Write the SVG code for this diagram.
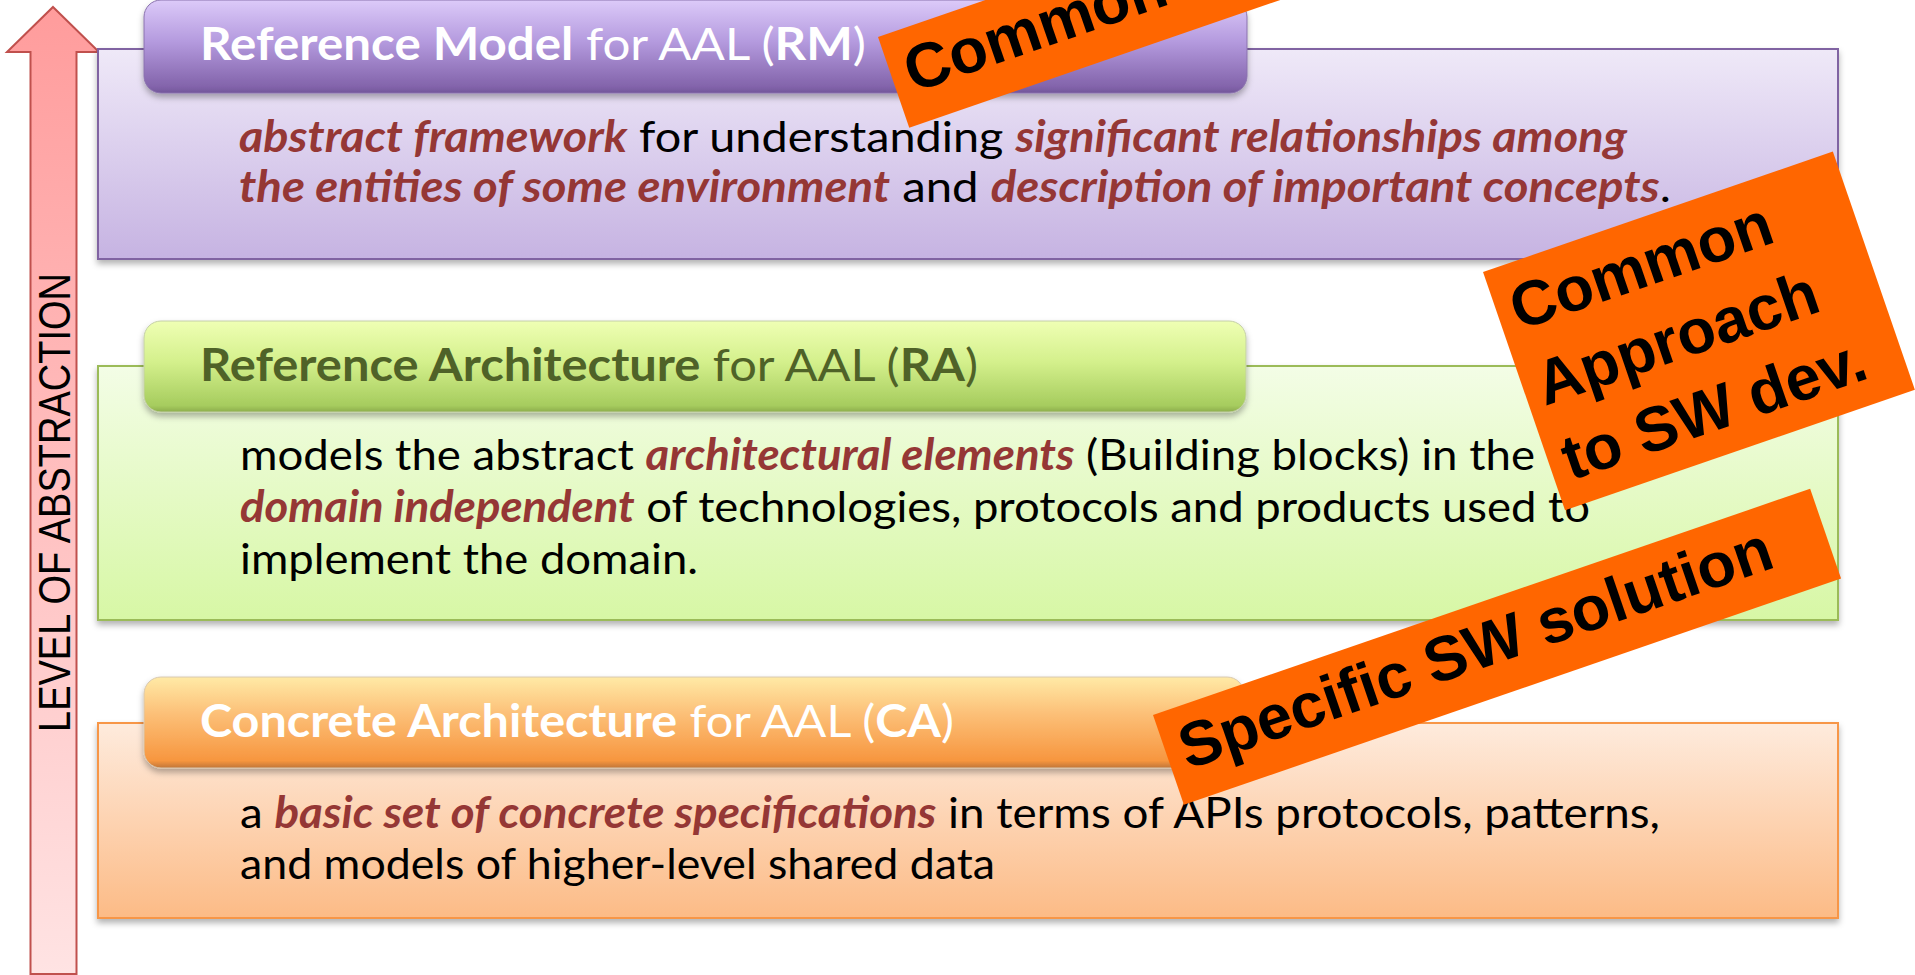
<svg xmlns="http://www.w3.org/2000/svg" width="1915" height="975" viewBox="0 0 1915 975">
<defs>
  <linearGradient id="gArrow" x1="0" y1="0" x2="0" y2="1"><stop offset="0" stop-color="#ff9c9c"/><stop offset="1" stop-color="#ffe3e3"/></linearGradient>
  <linearGradient id="gRmBox" x1="0" y1="0" x2="0" y2="1"><stop offset="0" stop-color="#efe9f8"/><stop offset="1" stop-color="#c6b3e2"/></linearGradient>
  <linearGradient id="gRmBar" x1="0" y1="0" x2="0" y2="1"><stop offset="0" stop-color="#dccaf9"/><stop offset="0.45" stop-color="#b49ade"/><stop offset="0.93" stop-color="#8364ab"/><stop offset="1" stop-color="#72569a"/></linearGradient>
  <linearGradient id="gRaBox" x1="0" y1="0" x2="0" y2="1"><stop offset="0" stop-color="#f3fde6"/><stop offset="1" stop-color="#d7f7a5"/></linearGradient>
  <linearGradient id="gRaBar" x1="0" y1="0" x2="0" y2="1"><stop offset="0" stop-color="#efffb4"/><stop offset="0.45" stop-color="#d4f08c"/><stop offset="0.93" stop-color="#a6cc5e"/><stop offset="1" stop-color="#8cad4c"/></linearGradient>
  <linearGradient id="gCaBox" x1="0" y1="0" x2="0" y2="1"><stop offset="0" stop-color="#feebdd"/><stop offset="1" stop-color="#fcbb86"/></linearGradient>
  <linearGradient id="gCaBar" x1="0" y1="0" x2="0" y2="1"><stop offset="0" stop-color="#ffeaa6"/><stop offset="0.4" stop-color="#fcc078"/><stop offset="0.92" stop-color="#f7963f"/><stop offset="1" stop-color="#c07538"/></linearGradient>
  <filter id="shadow" x="-5%" y="-10%" width="110%" height="130%">
    <feDropShadow dx="0" dy="4" stdDeviation="3" flood-color="#000" flood-opacity="0.3"/>
  </filter>
</defs>
<style>
  .title { font-family: Lato, "Liberation Sans", sans-serif; font-size: 45px; }
  .body { font-family: Lato, "Liberation Sans", sans-serif; font-size: 43px; fill: #000; }
  .b { font-weight: bold; }
  .em { font-weight: bold; font-style: italic; fill: #953735; }
  .white { fill: #ffffff; }
  .olive { fill: #4f6228; }
  .banner { fill: #ff6600; }
  .btext { font-family: "Liberation Sans", Arial, sans-serif; font-weight: bold; font-size: 63px; fill: #000; }
  .axis { font-family: "Liberation Sans", Arial, sans-serif; font-size: 44px; fill: #000; }
</style>
<rect width="1915" height="975" fill="#ffffff"/>

<g id="abstraction-arrow">
  <path d="M53,7 L99,52 L76.5,52 L76.5,974 L30.5,974 L30.5,52 L7,52 Z" fill="url(#gArrow)" stroke="#c0504d" stroke-width="2"/>
  <text class="axis" transform="translate(70,732) rotate(-90)" x="0" y="0" textLength="459" lengthAdjust="spacingAndGlyphs">LEVEL OF ABSTRACTION</text>
</g>

<g id="rm">
  <rect x="98" y="49" width="1740" height="210" fill="url(#gRmBox)" stroke="#8064a2" stroke-width="2" filter="url(#shadow)"/>
  <rect x="144" y="0" width="1103" height="93" rx="17" ry="17" fill="url(#gRmBar)" stroke="#8a72ad" stroke-width="1" filter="url(#shadow)"/>
  <text class="title white" x="200" y="60" textLength="666" lengthAdjust="spacingAndGlyphs"><tspan class="b">Reference Model</tspan> for AAL (<tspan class="b">RM</tspan>)</text>
  <text class="body" x="239" y="152" textLength="1388" lengthAdjust="spacingAndGlyphs"><tspan class="em">abstract framework</tspan> for understanding <tspan class="em">significant relationships among</tspan></text>
  <text class="body" x="239" y="202" textLength="1432" lengthAdjust="spacingAndGlyphs"><tspan class="em">the entities of some environment</tspan> and <tspan class="em">description of important concepts</tspan>.</text>
</g>

<g id="ra">
  <rect x="98" y="366" width="1740" height="254" fill="url(#gRaBox)" stroke="#9bbb59" stroke-width="2" filter="url(#shadow)"/>
  <rect x="144" y="321" width="1102" height="91" rx="17" ry="17" fill="url(#gRaBar)" stroke="#c4cfa8" stroke-width="1" filter="url(#shadow)"/>
  <text class="title olive" x="200" y="381" textLength="778" lengthAdjust="spacingAndGlyphs"><tspan class="b">Reference Architecture</tspan> for AAL (<tspan class="b">RA</tspan>)</text>
  <text class="body" x="240" y="470" textLength="1295" lengthAdjust="spacingAndGlyphs">models the abstract <tspan class="em">architectural elements</tspan> (Building blocks) in the</text>
  <text class="body" x="240" y="522" textLength="1350" lengthAdjust="spacingAndGlyphs"><tspan class="em">domain independent</tspan> of technologies, protocols and products used to</text>
  <text class="body" x="240" y="574" textLength="458" lengthAdjust="spacingAndGlyphs">implement the domain.</text>
</g>

<g id="ca">
  <rect x="98" y="723" width="1740" height="195" fill="url(#gCaBox)" stroke="#f79646" stroke-width="2" filter="url(#shadow)"/>
  <rect x="144" y="677" width="1100" height="91" rx="17" ry="17" fill="url(#gCaBar)" stroke="#d8c8b0" stroke-width="1" filter="url(#shadow)"/>
  <text class="title white" x="200" y="737" textLength="754" lengthAdjust="spacingAndGlyphs"><tspan class="b">Concrete Architecture</tspan> for AAL (<tspan class="b">CA</tspan>)</text>
  <text class="body" x="240" y="828" textLength="1420" lengthAdjust="spacingAndGlyphs">a <tspan class="em">basic set of concrete specifications</tspan> in terms of APIs protocols, patterns,</text>
  <text class="body" x="240" y="879" textLength="755" lengthAdjust="spacingAndGlyphs">and models of higher-level shared data</text>
</g>

<g id="banner-common" transform="translate(878,37) rotate(-19)">
  <rect class="banner" x="0" y="0" width="700" height="96"/>
  <text class="btext" x="15" y="64">Common</text>
</g>

<g id="banner-approach" transform="translate(1483,272) rotate(-19)">
  <rect class="banner" x="0" y="0" width="370" height="252"/>
  <text class="btext" x="15" y="67">Common</text>
  <text class="btext" x="15" y="147">Approach</text>
  <text class="btext" x="15" y="226">to SW dev.</text>
</g>

<g id="banner-specific" transform="translate(1153,715) rotate(-19)">
  <rect class="banner" x="0" y="0" width="695" height="95"/>
  <text class="btext" x="15" y="63">Specific SW solution</text>
</g>
</svg>
